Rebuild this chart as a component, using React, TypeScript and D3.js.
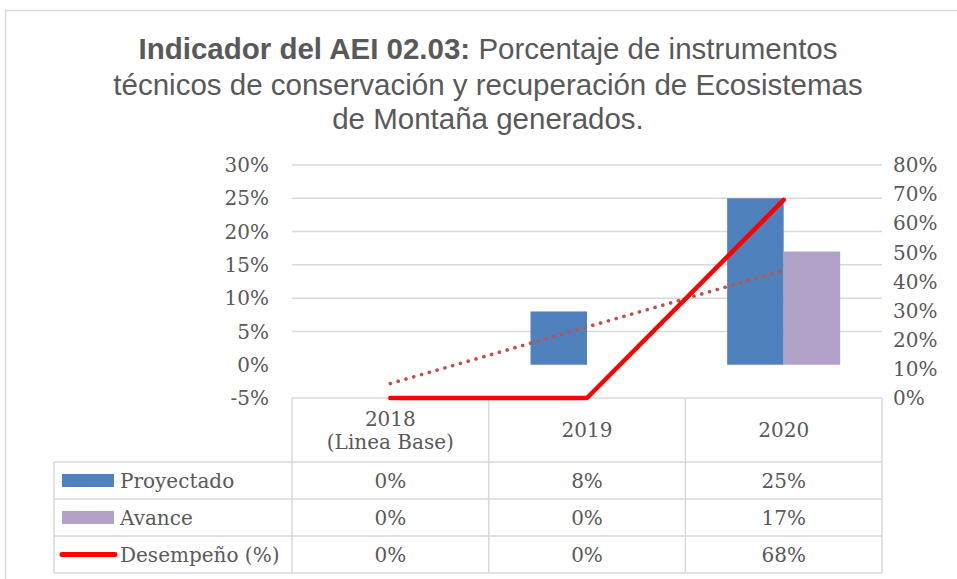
import React, { useEffect, useRef } from "react";
import * as d3 from "d3";

const categories = ["2018\n(Linea Base)", "2019", "2020"];
const proyectado = [0, 0.08, 0.25];
const avance = [0, 0, 0.17];
const desempeno = [0, 0, 0.68];
const leftTicks = [-0.05, 0, 0.05, 0.1, 0.15, 0.2, 0.25, 0.3];
const rightTicks = [0, 0.1, 0.2, 0.3, 0.4, 0.5, 0.6, 0.7, 0.8];

const W = 957;
const H = 579;
const TEXT = "#595959";
const GRID = "#D9D9D9";
const SERIF = "DejaVu Serif, serif";

export default function App() {
  const svgRef = useRef<SVGSVGElement>(null);

  useEffect(() => {
    const svg = d3.select(svgRef.current);
    svg.selectAll("*").remove();

    const plotL = 292, plotR = 882, plotT = 165, plotB = 398;

    const x = d3.scaleBand().domain(categories).range([plotL, plotR]).padding(0);
    const yL = d3.scaleLinear().domain([-0.05, 0.3]).range([plotB, plotT]);
    const yR = d3.scaleLinear().domain([0, 0.8]).range([plotB, plotT]);
    const cx = (c: string) => (x(c) as number) + x.bandwidth() / 2;

    // chart frame
    svg.append("rect")
      .attr("x", 5.5).attr("y", 10.5)
      .attr("width", W + 20).attr("height", H + 20)
      .attr("fill", "white").attr("stroke", GRID).attr("stroke-width", 1.5);

    // title
    const title = svg.append("text")
      .attr("text-anchor", "middle")
      .attr("font-family", "Liberation Sans, Arial, sans-serif")
      .attr("font-size", 29.5)
      .attr("fill", TEXT);
    const l1 = title.append("tspan").attr("x", 488).attr("y", 59);
    l1.append("tspan").attr("font-weight", "bold").text("Indicador del AEI 02.03:");
    l1.append("tspan").text(" Porcentaje de instrumentos");
    title.append("tspan").attr("x", 488).attr("y", 95)
      .text("técnicos de conservación y recuperación de Ecosistemas");
    title.append("tspan").attr("x", 488).attr("y", 129)
      .text("de Montaña generados.");

    // gridlines (no line at 0%, -5% is the table top)
    svg.append("g").selectAll("line")
      .data(leftTicks.filter(t => t > 0.001))
      .join("line")
      .attr("x1", plotL).attr("x2", plotR)
      .attr("y1", d => yL(d)).attr("y2", d => yL(d))
      .attr("stroke", GRID).attr("stroke-width", 1.5);

    // left axis labels
    svg.append("g").selectAll("text")
      .data(leftTicks)
      .join("text")
      .attr("x", 269).attr("y", d => yL(d)).attr("dy", "0.36em")
      .attr("text-anchor", "end")
      .attr("font-family", SERIF).attr("font-size", 20).attr("fill", TEXT)
      .text(d => d3.format(".0%")(d).replace("−", "-"));

    // right axis labels
    svg.append("g").selectAll("text")
      .data(rightTicks)
      .join("text")
      .attr("x", 893).attr("y", d => yR(d)).attr("dy", "0.36em")
      .attr("text-anchor", "start")
      .attr("font-family", SERIF).attr("font-size", 20).attr("fill", TEXT)
      .text(d => d3.format(".0%")(d));

    // bars
    const series = ["Proyectado", "Avance"];
    const colors = ["#4F81BD", "#B2A1C7"];
    const inner = d3.scaleBand().domain(series).range([-56.5, 56.5]).padding(0);
    [proyectado, avance].forEach((vals, si) => {
      svg.append("g").selectAll("rect")
        .data(vals.map((v, i) => ({ v, c: categories[i] })))
        .join("rect")
        .attr("x", d => cx(d.c) + (inner(series[si]) as number))
        .attr("width", inner.bandwidth())
        .attr("y", d => Math.min(yL(d.v), yL(0)))
        .attr("height", d => Math.abs(yL(0) - yL(d.v)))
        .attr("fill", colors[si]);
    });

    // linear trendline of Avance (Excel-style least squares)
    const xs = avance.map((_, i) => i + 1);
    const mx = d3.mean(xs) as number;
    const my = d3.mean(avance) as number;
    const slope = d3.sum(xs, (xi, i) => (xi - mx) * (avance[i] - my)) / d3.sum(xs, xi => (xi - mx) ** 2);
    const icpt = my - slope * mx;
    svg.append("path")
      .datum(categories.map((c, i) => ({ c, v: icpt + slope * (i + 1) })))
      .attr("d", d3.line<{ c: string; v: number }>().x(d => cx(d.c)).y(d => yL(d.v)))
      .attr("fill", "none").attr("stroke", "#C0504D")
      .attr("stroke-width", 3.6).attr("stroke-linecap", "round")
      .attr("stroke-dasharray", "0.1 8");

    // table
    const tblL = 54, rowY = [398, 462, 499, 536, 573];
    const tg = svg.append("g").attr("stroke", GRID).attr("stroke-width", 1.5);
    tg.append("line").attr("x1", plotL).attr("x2", plotR).attr("y1", rowY[0]).attr("y2", rowY[0]);
    rowY.slice(1).forEach(y => {
      tg.append("line").attr("x1", tblL).attr("x2", plotR).attr("y1", y).attr("y2", y);
    });
    tg.append("line").attr("x1", tblL).attr("x2", tblL).attr("y1", rowY[1]).attr("y2", rowY[4]);
    [...categories.map(c => x(c) as number), plotR].forEach(xx => {
      tg.append("line").attr("x1", xx).attr("x2", xx).attr("y1", rowY[0]).attr("y2", rowY[4]);
    });

    // header labels
    categories.forEach(c => {
      const lines = c.split("\n");
      const t = svg.append("text")
        .attr("text-anchor", "middle")
        .attr("font-family", SERIF).attr("font-size", 20).attr("fill", TEXT);
      const mid = (rowY[0] + rowY[1]) / 2;
      lines.forEach((ln, k) => {
        t.append("tspan")
          .attr("x", cx(c))
          .attr("y", mid + (k - (lines.length - 1) / 2) * 23)
          .attr("dy", "0.36em")
          .text(ln);
      });
    });

    // data rows
    const rows = [
      { name: "Proyectado", vals: proyectado, key: "rect", color: colors[0] },
      { name: "Avance", vals: avance, key: "rect", color: colors[1] },
      { name: "Desempeño (%)", vals: desempeno, key: "line", color: "#FF0000" },
    ];
    rows.forEach((r, ri) => {
      const mid = (rowY[ri + 1] + rowY[ri + 2]) / 2;
      if (r.key === "rect") {
        svg.append("rect").attr("x", 62).attr("y", mid - 6.5)
          .attr("width", 52).attr("height", 13).attr("fill", r.color);
      } else {
        svg.append("line").attr("x1", 62).attr("x2", 115).attr("y1", mid).attr("y2", mid)
          .attr("stroke", r.color).attr("stroke-width", 5).attr("stroke-linecap", "round");
      }
      svg.append("text").attr("x", 120).attr("y", mid).attr("dy", "0.36em")
        .attr("font-family", SERIF).attr("font-size", 20).attr("fill", TEXT)
        .text(r.name);
      r.vals.forEach((v, i) => {
        svg.append("text").attr("x", cx(categories[i])).attr("y", mid).attr("dy", "0.36em")
          .attr("text-anchor", "middle")
          .attr("font-family", SERIF).attr("font-size", 20).attr("fill", TEXT)
          .text(d3.format(".0%")(v));
      });
    });

    // Desempeño line on secondary axis
    svg.append("path")
      .datum(categories.map((c, i) => ({ c, v: desempeno[i] })))
      .attr("d", d3.line<{ c: string; v: number }>().x(d => cx(d.c)).y(d => yR(d.v)))
      .attr("fill", "none").attr("stroke", "#FF0000")
      .attr("stroke-width", 4.5).attr("stroke-linecap", "round").attr("stroke-linejoin", "round");
  }, []);

  return (
    <svg ref={svgRef} width={W} height={H}
      style={{ position: "absolute", left: 0, top: 0, background: "white" }} />
  );
}
